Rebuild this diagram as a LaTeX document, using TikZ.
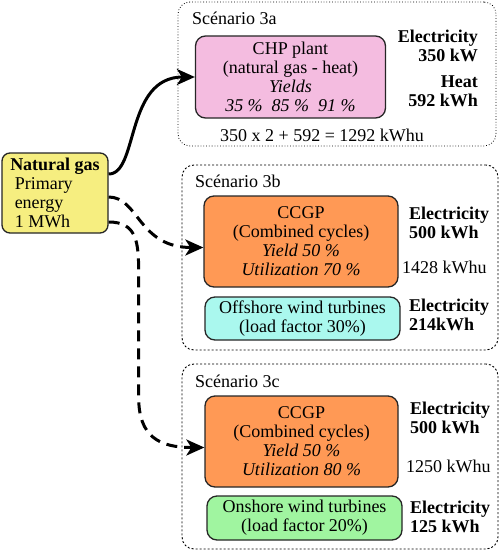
\documentclass[tikz,border=0pt]{standalone}
\usepackage{fontspec}
\setmainfont{LiberationSerif}[Extension=.ttf,UprightFont=*-Regular,BoldFont=*-Bold,ItalicFont=*-Italic,BoldItalicFont=*-BoldItalic]
\usetikzlibrary{arrows.meta,positioning,calc}
\definecolor{gasyellow}{HTML}{F6EE80}
\definecolor{chppink}{HTML}{F4BCE0}
\definecolor{ccgporange}{HTML}{FF9955}
\definecolor{windcyan}{HTML}{AAF8EE}
\definecolor{windgreen}{HTML}{A0F5A0}
\begin{document}
\begin{tikzpicture}[x=1pt,y=-1pt, font=\fontsize{18}{19}\selectfont,
  plant/.style={draw=black!85,line width=1.3pt,rounded corners=10pt,align=center,inner sep=0pt},
  frame/.style={draw,rounded corners=12pt,inner sep=0pt,line width=0.9pt,dash pattern=on 2pt off 2pt},
  flow/.style={line width=3pt,-{Stealth[length=18pt,width=16pt,inset=5pt]}},
  dflow/.style={flow,dash pattern=on 11pt off 7pt}]
  \useasboundingbox (0,0) rectangle (500,551);
  \node[frame,dash pattern=on 0.8pt off 2pt,line width=0.8pt,minimum width=318pt,minimum height=144pt](fa) at (337,74){};
  \node[frame,minimum width=316pt,minimum height=185pt](fb) at (340,257.5){};
  \node[frame,minimum width=316pt,minimum height=185pt](fc) at (340,456.5){};
  \node[anchor=west,inner sep=0pt](la) at (192,18){Scénario 3a};
  \node[anchor=west,inner sep=0pt](lb) at (195,181){Scénario 3b};
  \node[anchor=west,inner sep=0pt](lc) at (195,381){Scénario 3c};
  \node[plant,fill=gasyellow,align=left,rounded corners=8pt,minimum width=106pt,minimum height=80pt](gas) at (55,193)
    {\textbf{Natural gas}\\\ Primary\\\ energy\\\ 1 MWh};
  \node[plant,fill=chppink,minimum width=190pt,minimum height=82pt](chp) at (290.5,77)
    {CHP plant\\(natural gas - heat)\\\textit{Yields}\\\textit{35 \%\ \ 85 \%\ \ 91 \%}};
  \node[anchor=east,align=right,inner sep=0pt](ea) at (478,46){\textbf{Electricity}\\\textbf{350 kW}};
  \node[anchor=east,align=right,inner sep=0pt](ha) at (478,91){\textbf{Heat}\\\textbf{592 kWh}};
  \node[inner sep=0pt](sa) at (322,135){350 x 2 + 592 = 1292 kWhu};
  \node[plant,fill=ccgporange,minimum width=194pt,minimum height=91pt](ccgpb) at (301,241.5)
    {CCGP\\(Combined cycles)\\\textit{Yield 50 \%}\\\textit{Utilization 70 \%}};
  \node[anchor=west,align=left,inner sep=0pt](eb) at (409,222.5){\textbf{Electricity}\\\textbf{500 kWh}};
  \node[anchor=west,inner sep=0pt](ub) at (402,267){1428 kWhu};
  \node[plant,fill=windcyan,minimum width=195pt,minimum height=43pt](wb) at (302.5,318.5)
    {Offshore wind turbines\\(load factor 30\%)};
  \node[anchor=west,align=left,inner sep=0pt](ewb) at (409,314.5){\textbf{Electricity}\\\textbf{214kWh}};
  \node[plant,fill=ccgporange,minimum width=193pt,minimum height=91pt](ccgpc) at (301.5,441.5)
    {CCGP\\(Combined cycles)\\\textit{Yield 50 \%}\\\textit{Utilization 80 \%}};
  \node[anchor=west,align=left,inner sep=0pt](ec) at (410,417.5){\textbf{Electricity}\\\textbf{500 kWh}};
  \node[anchor=west,inner sep=0pt](uc) at (406,466){1250 kWhu};
  \node[plant,fill=windgreen,minimum width=195pt,minimum height=44pt](wc) at (304.5,518)
    {Onshore wind turbines\\(load factor 20\%)};
  \node[anchor=west,align=left,inner sep=0pt](ewc) at (410,516.5){\textbf{Electricity}\\\textbf{125 kWh}};
  \draw[flow]([yshift=19pt]gas.east) .. controls +(30,0) and +(-70,0) .. (chp.west);
  \draw[dflow]([yshift=-4pt]gas.east) .. controls +(30,0) and +(-65,0) .. ([yshift=-6pt]ccgpb.west);
  \draw[dflow]([yshift=-29pt]gas.east) .. controls +(28,0) and +(0,-30) .. ++(30,50) -- ++(0,125)
    .. controls +(0,40) and +(-45,0) .. ([yshift=-6pt]ccgpc.west);
\end{tikzpicture}
\end{document}
